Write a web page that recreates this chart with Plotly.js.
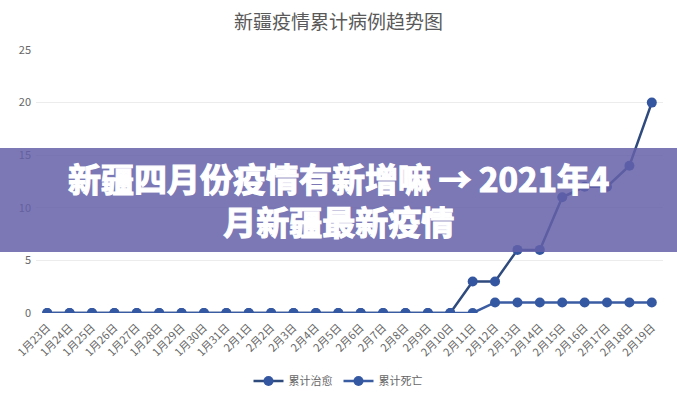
<!DOCTYPE html>
<html>
<head>
<meta charset="utf-8">
<script src="https://cdn.plot.ly/plotly-3.0.1.min.js"></script>
<style>
  html, body { margin: 0; padding: 0; background: #fff; }
  #chart { width: 677px; height: 400px; }
  /* banner text in the reference is very heavy */
  .annotation-text { stroke: #ffffff; stroke-width: 1.2px; paint-order: stroke; }
</style>
</head>
<body>
<div id="chart"></div>
<script>
// dates on the x axis
let dates = ['1月23日', '1月24日', '1月25日', '1月26日', '1月27日', '1月28日', '1月29日',
    '1月30日', '1月31日', '2月1日', '2月2日', '2月3日', '2月4日', '2月5日', '2月6日',
    '2月7日', '2月8日', '2月9日', '2月10日', '2月11日', '2月12日', '2月13日', '2月14日',
    '2月15日', '2月16日', '2月17日', '2月18日', '2月19日'];

// cumulative cured
let cured = [0, 0, 0, 0, 0, 0, 0, 0, 0, 0, 0, 0, 0, 0, 0, 0, 0, 0, 0,
    3, 3, 6, 6, 11, 12, 12, 14, 20];

// cumulative deaths
let deaths = [0, 0, 0, 0, 0, 0, 0, 0, 0, 0, 0, 0, 0, 0, 0, 0, 0, 0, 0,
    0, 1, 1, 1, 1, 1, 1, 1, 1];

let yTicks = [0, 5, 10, 15, 20, 25];

let bannerText = '新疆四月份疫情有新增嘛 → 2021年4<br>月新疆最新疫情';

let cjk = '"Noto Sans CJK SC", "Noto Sans", sans-serif';

var data = [
    {
        x: dates,
        y: cured,
        name: '累计治愈',
        type: 'scatter',
        mode: 'lines+markers',
        line: { color: '#2f4a7d', width: 2.5 },
        marker: { color: '#3456a0', size: 10 }
    },
    {
        x: dates,
        y: deaths,
        name: '累计死亡',
        type: 'scatter',
        mode: 'lines+markers',
        line: { color: '#3a5ca2', width: 2.5 },
        marker: { color: '#3558a2', size: 10 }
    }
];

var layout = {
    width: 677,
    height: 400,
    paper_bgcolor: '#ffffff',
    plot_bgcolor: '#ffffff',
    font: { family: cjk, color: '#666666', size: 10 },
    margin: { l: 36, r: 14, t: 50, b: 87 },
    title: {
        text: '新疆疫情累计病例趋势图',
        font: { family: cjk, size: 19, color: '#595959' },
        x: 0.5,
        xanchor: 'center',
        y: 0.945,
        yanchor: 'middle'
    },
    xaxis: {
        type: 'category',
        range: [-0.5, dates.length - 0.5],
        tickangle: -45,
        showgrid: false,
        showline: false,
        zeroline: false,
        ticks: '',
        ticklabelstandoff: 5,
        tickfont: { family: cjk, size: 11, color: '#666666' },
        automargin: false
    },
    yaxis: {
        range: [0, 25],
        tickvals: yTicks,
        showgrid: true,
        gridcolor: '#ececec',
        gridwidth: 1,
        zeroline: false,
        showline: false,
        ticks: '',
        ticklabelstandoff: 4,
        tickfont: { family: cjk, size: 11, color: '#666666' },
        automargin: false
    },
    showlegend: true,
    legend: {
        orientation: 'h',
        x: 0.5,
        xref: 'container',
        xanchor: 'center',
        y: 0.0475,
        yref: 'container',
        yanchor: 'middle',
        font: { family: cjk, size: 11, color: '#666666' },
        itemwidth: 30,
        entrywidth: 45,
        tracegroupgap: 0
    },
    shapes: [
        {
            type: 'rect',
            xref: 'paper',
            yref: 'paper',
            x0: -0.06,
            x1: 1.03,
            y0: 0.232,
            y1: 0.627,
            fillcolor: 'rgba(100, 96, 168, 0.85)',
            line: { width: 0 },
            layer: 'above'
        }
    ],
    annotations: [
        {
            xref: 'paper',
            yref: 'paper',
            x: 0.483,
            y: 0.43,
            xanchor: 'center',
            yanchor: 'middle',
            showarrow: false,
            text: '<b>' + bannerText + '</b>',
            font: { family: cjk, size: 33, color: '#ffffff' },
            align: 'center'
        }
    ]
};

Plotly.newPlot('chart', data, layout, { displayModeBar: false, staticPlot: true });
</script>
</body>
</html>
